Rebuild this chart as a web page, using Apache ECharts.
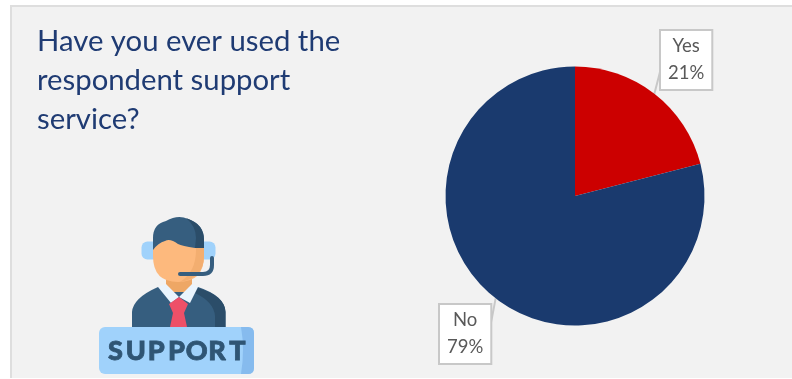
<!DOCTYPE html>
<html>
<head>
<meta charset="utf-8">
<script src="https://cdn.jsdelivr.net/npm/echarts@6/dist/echarts.min.js"></script>
<style>html,body{margin:0;padding:0;background:#fff}#c{width:792px;height:379px}</style>
</head>
<body>
<div id="c"></div>
<script>
const categories = ['Yes', 'No'];
const shares = [21, 79];
const sliceColors = ['#CC0000', '#1A3A6E'];
const headingLines = ['Have you ever used the', 'respondent support', 'service?'];
const badgeText = 'SUPPORT';

// Small SVG-style path shape so the illustration can be written as M/L/Q/Z strings
echarts.graphic.registerShape('svgLike', echarts.graphic.extendShape({
  shape: { d: '' },
  buildPath(ctx, shape) {
    const parts = shape.d.trim().split(/\s+/);
    let i = 0;
    while (i < parts.length) {
      const op = parts[i][0];
      const n = k => parseFloat(k === 0 ? parts[i].slice(1) : parts[i + k]);
      if (op === 'M') { ctx.moveTo(n(0), n(1)); i += 2; }
      else if (op === 'L') { ctx.lineTo(n(0), n(1)); i += 2; }
      else if (op === 'Q') { ctx.quadraticCurveTo(n(0), n(1), n(2), n(3)); i += 4; }
      else { ctx.closePath(); i += 1; }
    }
  }
}));

const chart = echarts.init(document.getElementById('c'), null, { renderer: 'canvas' });

// Callout box placement (top-left corner) and where its leader meets the box
const calloutAt = [{ x: 659, y: 29, tieX: 660, tieY: 72 }, { x: 438, y: 303, tieX: 490, tieY: 328 }];

const shape = (d, fill) => ({ type: 'svgLike', shape: { d }, style: { fill } });

// Support-agent illustration, painted back to front
const icon = [
  { type: 'rect', shape: { x: 141.5, y: 241.5, width: 74, height: 18, r: 6 }, style: { fill: '#A0D2FB' } },
  shape('M132 327 L132 312 Q133 298 158 287 L198 287 Q225 296 225.5 312 L225.5 327 Z', '#365E7F'),
  shape('M198 288 Q225 296 225.5 312 L225.5 327 L215 327 L215 316 Q214 302 195 293 Z', '#2B4D69'),
  { type: 'rect', shape: { x: 166, y: 270, width: 26, height: 22 }, style: { fill: '#EEA765' } },
  shape('M158 287 L166 284 L179 297 L192 284 L198 287 L190 303 L179 297 L171 303 Z', '#EAF4FD'),
  shape('M179 297 L188 304 L184 313 L187 327 L170 327 L173 313 L169 304 Z', '#EE5068'),
  shape('M153 248 L153 256 Q153 282 178 282 Q204 282 204 256 L204 240 L170 236 Z', '#FDB97D'),
  shape('M196 244 L204 244 L204 256 Q204 278 180 282 Q196 272 196 250 Z', '#F3AE70'),
  shape('M153 250 L153 238 Q153 224 166 221 Q178 214 188 219 Q204 224 204 240 L204 248 L195 248 Q182 246 178 244 Q170 238 165 241 Q158 243 153 250 Z', '#365E7F'),
  shape('M186 218 Q204 224 204 240 L204 248 L195 248 L196 238 Q196 226 186 218 Z', '#2B4D69'),
  { type: 'svgLike', shape: { d: 'M180 274 L203 274 Q212 274 212 265 L212 258' }, style: { stroke: '#365E7F', lineWidth: 4, fill: null, lineCap: 'round' } },
  { type: 'rect', shape: { x: 99, y: 327, width: 155, height: 47, r: 6 }, style: { fill: '#A0D2FB' } },
  shape('M241 327 L248 327 Q254 327 254 333 L254 368 Q254 374 248 374 L241 374 Q245 350 241 327 Z', '#86BBEE')
];

// Badge lettering is spaced out by hand because canvas text has no tracking here
badgeText.split('').forEach((ch, i) => {
  icon.push({ type: 'text', style: { x: 115.5 + i * 20.3, y: 351, text: ch, align: 'center', verticalAlign: 'middle', fill: '#2F5574', stroke: '#2F5574', lineWidth: 0.8, font: '900 27px Lato, sans-serif' } });
});

chart.setOption({
  animation: false,
  backgroundColor: '#ffffff',
  graphic: [
    { type: 'rect', z: -10, shape: { x: 10, y: 5, width: 782, height: 373 }, style: { fill: '#F2F2F2' } },
    { type: 'rect', z: -9, shape: { x: 10, y: 5, width: 782, height: 2 }, style: { fill: '#DEDEDE' } },
    { type: 'rect', z: -9, shape: { x: 10, y: 5, width: 2, height: 373 }, style: { fill: '#DEDEDE' } },
    { type: 'text', z: 5, style: { x: 37, y: 22, text: headingLines.join('\n'), fill: '#1F3B73', font: '29.3px Lato, sans-serif', lineHeight: 39 } },
    { type: 'group', z: 5, children: icon }
  ],
  series: [{
    type: 'pie',
    center: [575, 196],
    radius: [0, 129.5],
    startAngle: 90,
    clockwise: true,
    silent: true,
    data: categories.map((name, i) => ({ name, value: shares[i], itemStyle: { color: sliceColors[i] } })),
    label: {
      show: true,
      formatter: p => `${p.name}\n${p.value}%`,
      color: '#595959',
      fontFamily: 'Lato, sans-serif',
      fontSize: 18.5,
      lineHeight: 27,
      backgroundColor: '#ffffff',
      borderColor: '#C8C8C8',
      borderWidth: 2,
      padding: [2, 7, 2, 7]
    },
    labelLine: { show: true, length: 10, length2: 10, lineStyle: { color: '#C8C8C8', width: 2 } },
    labelLayout: p => {
      const at = calloutAt[p.dataIndex];
      const rim = p.labelLinePoints[0];
      const tie = [at.tieX, at.tieY];
      return {
        x: at.x + p.labelRect.width / 2,
        y: at.y + p.labelRect.height / 2,
        align: 'center',
        verticalAlign: 'middle',
        labelLinePoints: [rim, tie, tie]
      };
    }
  }]
});
</script>
</body>
</html>
